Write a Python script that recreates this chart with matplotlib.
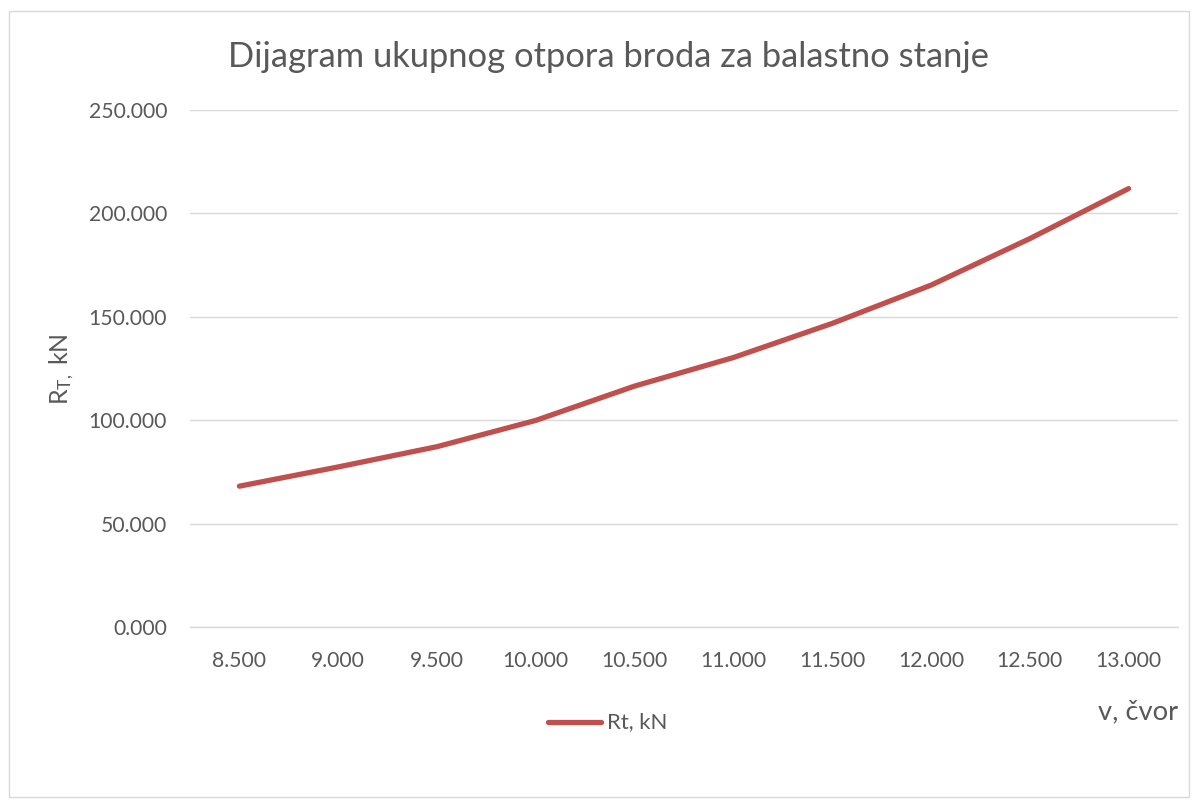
import matplotlib
matplotlib.use("Agg")
import matplotlib.pyplot as plt
from matplotlib.patches import Rectangle
from matplotlib.lines import Line2D

# Data
speeds = [8.5, 9.0, 9.5, 10.0, 10.5, 11.0, 11.5, 12.0, 12.5, 13.0]
resistance = [68.1, 77.4, 87.2, 99.9, 116.5, 130.3, 146.8, 165.3, 187.8, 212.0]
y_ticks = [0, 50, 100, 150, 200, 250]

def fmt(v):
    return f"{v:.3f}"

plt.rcParams['font.family'] = ['Lato', 'DejaVu Sans']
plt.rcParams['mathtext.fontset'] = 'custom'
plt.rcParams['mathtext.rm'] = 'Lato'
plt.rcParams['mathtext.it'] = 'Lato'

W, H = 1197, 805
fig = plt.figure(figsize=(W / 100, H / 100), dpi=100)
fig.patch.set_facecolor('white')

# chart border
fig.add_artist(Rectangle((9 / W, 1 - 797 / H), (1189 - 9) / W, (797 - 11) / H,
                         transform=fig.transFigure, fill=False,
                         edgecolor='#d9d9d9', linewidth=1.0))

left, right, top, bottom = 190, 1178, 110, 627
ax = fig.add_axes([left / W, 1 - bottom / H, (right - left) / W, (bottom - top) / H])

xpos = list(range(len(speeds)))
ax.plot(xpos, resistance, color='#C0504D', linewidth=3.8, solid_capstyle='round',
        solid_joinstyle='round', zorder=3)

ax.set_xlim(-0.5, len(speeds) - 0.5)
ax.set_ylim(0, 250)
ax.set_yticks(y_ticks)
ax.set_yticklabels([fmt(v) for v in y_ticks])
ax.set_xticks(xpos)
ax.set_xticklabels([fmt(v) for v in speeds])

ax.grid(axis='y', color='#d9d9d9', linewidth=1.0)
ax.set_axisbelow(True)
for s in ['top', 'right', 'left']:
    ax.spines[s].set_visible(False)
ax.spines['bottom'].set_color('#d9d9d9')
ax.spines['bottom'].set_linewidth(1.0)
ax.tick_params(axis='both', length=0, labelsize=15.2, colors='#595959')
ax.tick_params(axis='y', pad=16.5)
ax.tick_params(axis='x', pad=17)

# Title
fig.text(608 / W, 1 - 57 / H, 'Dijagram ukupnog otpora broda za balastno stanje',
         ha='center', va='center', fontsize=24.8, color='#595959')

# Y label
fig.text(62 / W, 1 - 369 / H, r'R$_{\mathrm{T,}}$ kN', rotation=90, ha='center',
         va='center', fontsize=18, color='#595959')

# X label
fig.text(1178 / W, 1 - 712 / H, 'v, čvor', ha='right', va='center',
         fontsize=19.7, color='#595959')

# Legend
fig.add_artist(Line2D([548 / W, 601 / W], [1 - 722 / H, 1 - 722 / H],
                      transform=fig.transFigure, color='#C0504D', linewidth=3.8,
                      solid_capstyle='round'))
fig.text(607 / W, 1 - 722 / H, 'Rt, kN', ha='left', va='center', fontsize=15.9,
         color='#595959')

fig.savefig('out.png', dpi=100, facecolor='white')
